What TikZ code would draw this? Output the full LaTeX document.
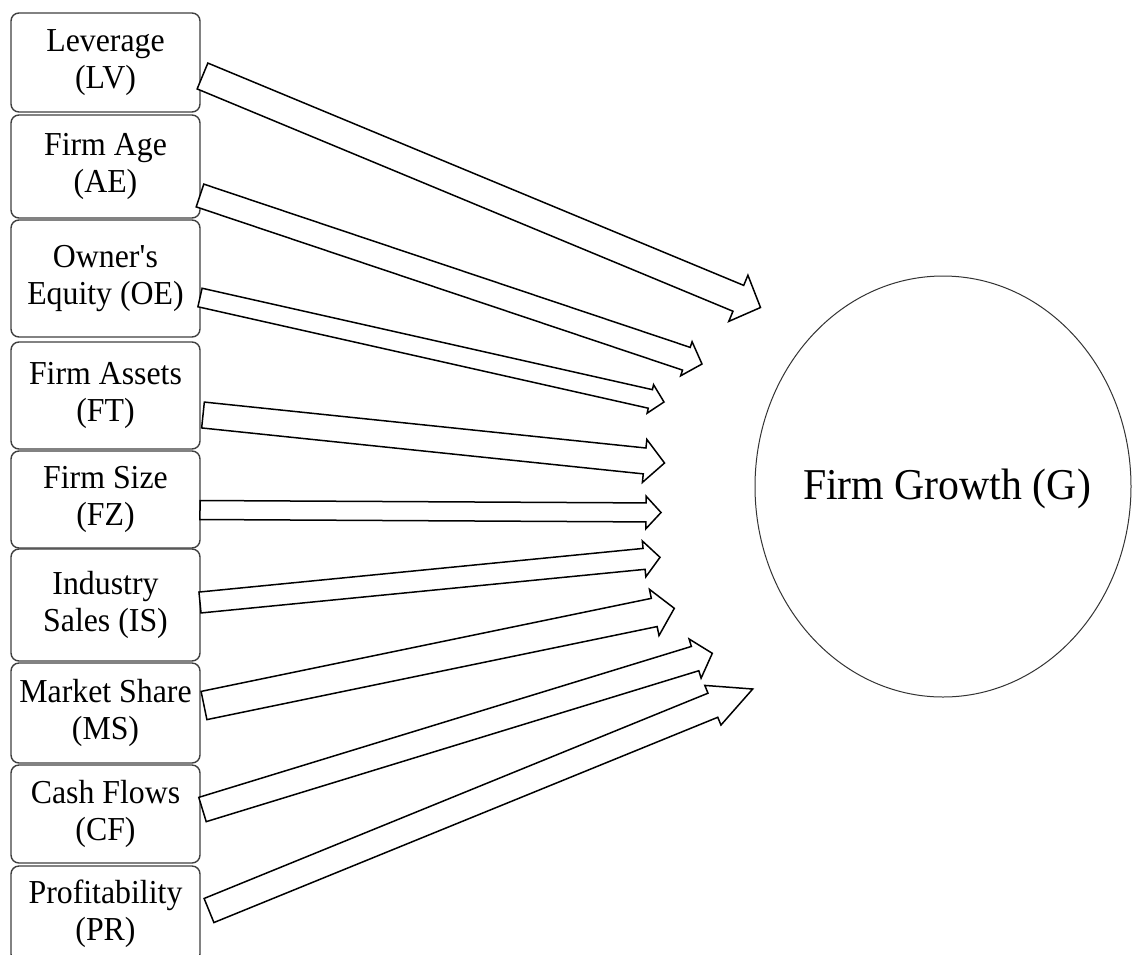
\documentclass[tikz,border=0pt]{standalone}
\usepackage{fontspec}
\setmainfont{Liberation Serif}
\newfontfamily\boxfont{Liberation Serif}[FakeStretch=0.95]
\usetikzlibrary{calc,shapes.geometric}
\newcommand\blkarrow[5]{%
  \coordinate (#1b) at ($(#2)!#5!(#1)$);
  \draw[arr] ($(#1)!#3!90:(#2)$) -- ($(#1b)!#3!90:(#2)$) -- ($(#1b)!#4!90:(#2)$) -- (#2)
    -- ($(#1b)!#4!-90:(#2)$) -- ($(#1b)!#3!-90:(#2)$) -- ($(#1)!#3!-90:(#2)$) -- cycle;
}
\begin{document}
\begin{tikzpicture}[x=1pt,y=-1pt,
  box/.style={draw=black!75, line width=1.4pt, rounded corners=8pt, minimum width=189pt,
    inner sep=0pt, align=center, font=\boxfont\fontsize{33.5}{37}\selectfont},
  arr/.style={draw=black, line width=1.5pt, line join=miter, fill=white},
  goal/.style={draw=black!80, line width=1pt, ellipse, inner sep=0pt, minimum width=376pt,
    minimum height=421pt},
  goaltext/.style={font=\boxfont\fontsize{44}{50}\selectfont, inner sep=0pt, anchor=base}]
\useasboundingbox (0,0) rectangle (1132,954);
\clip (0,0) rectangle (1132,954);
\fill[white] (0,0) rectangle (1132,954);
% boxes
\node[box, minimum height=99pt]  (LV) at (105.5,62.5) {Leverage\\(LV)};
\node[box, minimum height=103pt] (AE) at (105.5,166.5) {Firm Age\\(AE)};
\node[box, minimum height=117pt] (OE) at (105.5,278.5) {Owner\textquotesingle s\\Equity (OE)};
\node[box, minimum height=107pt] (FT) at (105.5,395.5) {Firm Assets\\(FT)};
\node[box, minimum height=97pt]  (FZ) at (105.5,499.5) {Firm Size\\(FZ)};
\node[box, minimum height=112pt] (IS) at (105.5,605) {Industry\\Sales (IS)};
\node[box, minimum height=100pt] (MS) at (105.5,713) {Market Share\\(MS)};
\node[box, minimum height=98pt]  (CF) at (105.5,814) {Cash Flows\\(CF)};
\node[box, minimum height=96pt]  (PR) at (105.5,914) {Profitability\\(PR)};
% goal
\node[goal] (G) at (943,486.5) {};
\node[goaltext] (Gt) at ($(G.center)+(4,12.5)$) {Firm Growth (G)};
% arrow tails and tips
\coordinate (tLV) at (202.5,76);   \coordinate (pLV) at (760.5,307.5);
\coordinate (tAE) at (200,195.5);  \coordinate (pAE) at (702,364);
\coordinate (tOE) at (200,297.5);  \coordinate (pOE) at (664,402);
\coordinate (tFT) at (203,415);    \coordinate (pFT) at (664.5,463);
\coordinate (tFZ) at (200,510);    \coordinate (pFZ) at (661,512.5);
\coordinate (tIS) at (200,602.5);  \coordinate (pIS) at (660,557.3);
\coordinate (tMS) at (204,705.5);  \coordinate (pMS) at (674.3,608.3);
\coordinate (tCF) at (202.5,809.5);\coordinate (pCF) at (712.3,653.3);
\coordinate (tPR) at (209,910.5);  \coordinate (pPR) at (752.7,689);
\blkarrow{tLV}{pLV}{14pt}{25pt}{24pt}
\blkarrow{tAE}{pAE}{12pt}{18pt}{16.5pt}
\blkarrow{tOE}{pOE}{9.5pt}{14.6pt}{14pt}
\blkarrow{tFT}{pFT}{13pt}{21.6pt}{20pt}
\blkarrow{tFZ}{pFZ}{9.5pt}{16.3pt}{15pt}
\blkarrow{tIS}{pIS}{10.5pt}{18pt}{16pt}
\blkarrow{tMS}{pMS}{14.4pt}{23.6pt}{20.5pt}
\blkarrow{tCF}{pCF}{12.7pt}{20.5pt}{18pt}
\blkarrow{tPR}{pPR}{13pt}{21.4pt}{43pt}
\end{tikzpicture}
\end{document}
